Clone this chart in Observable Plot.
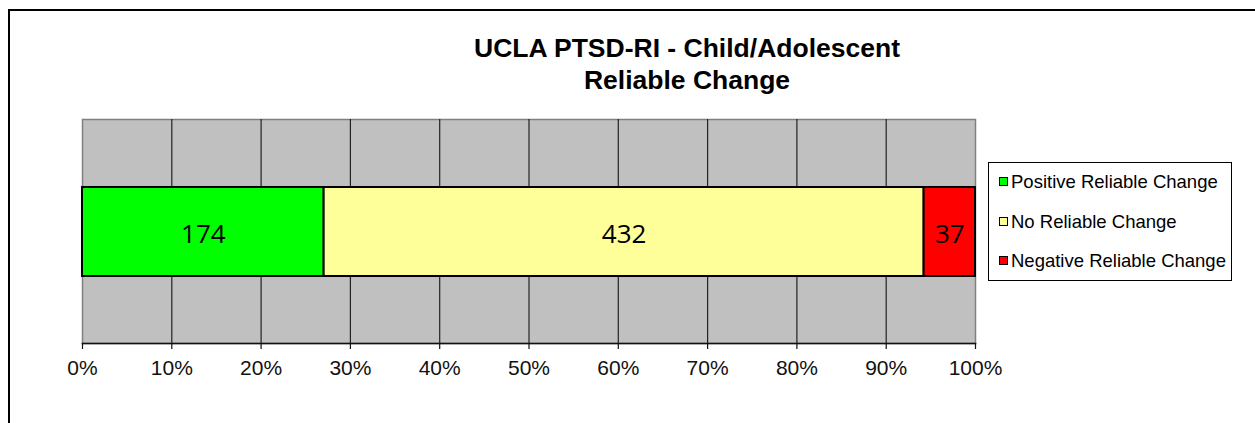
<!DOCTYPE html>
<html>
<head>
<meta charset="utf-8">
<script src="https://cdn.jsdelivr.net/npm/d3@7"></script>
<script src="https://cdn.jsdelivr.net/npm/@observablehq/plot@0.6"></script>
<style>
  html, body { margin: 0; padding: 0; background: #fff; }
  #wrap { position: relative; width: 1255px; height: 423px; overflow: hidden; font-family: "Liberation Sans", Arial, sans-serif; }
  #border { position: absolute; left: 8px; top: 9px; width: 1300px; height: 500px; border-left: 2px solid #000; border-top: 2px solid #000; box-sizing: border-box; }
  #title { position: absolute; left: 387px; width: 600px; top: 32px; text-align: center; font-weight: bold; font-size: 26.5px; line-height: 32px; color: #000; }
  #legend { position: absolute; left: 988px; top: 162px; width: 244px; height: 119px; box-sizing: border-box; border: 1px solid #000; background: #fff; }
  .item { position: absolute; left: 10px; font-size: 18.5px; color: #000; white-space: nowrap; line-height: 20px; }
  .sw { display: inline-block; width: 7px; height: 7px; border: 1px solid #000; margin-right: 3px; vertical-align: 2px; }
  #chart { position: absolute; left: 0; top: 0; }
</style>
</head>
<body>
<div id="wrap">
  <div id="chart"></div>
  <div id="border"></div>
  <div id="title"></div>
  <div id="legend"></div>
</div>
<script>
const titleLines = ["UCLA PTSD-RI - Child/Adolescent", "Reliable Change"];
const categories = ["Positive Reliable Change", "No Reliable Change", "Negative Reliable Change"];
const counts = [174, 432, 37];
const colors = ["#00FF00", "#FFFF99", "#FF0000"];
const rowLabel = ["UCLA PTSD-RI"];
const tickValues = [0, 0.1, 0.2, 0.3, 0.4, 0.5, 0.6, 0.7, 0.8, 0.9, 1];

const data = categories.map((c, i) => ({row: rowLabel[0], category: c, value: counts[i]}));

const stackOpts = {x: "value", y: "row", offset: "normalize", order: null};

const plot = Plot.plot({
  width: 1255,
  height: 423,
  marginLeft: 82,
  marginRight: 280,
  marginTop: 119,
  marginBottom: 80,
  style: {fontFamily: "'Liberation Sans', Arial, sans-serif", background: "transparent", overflow: "visible"},
  x: {domain: [0, 1], ticks: tickValues, tickFormat: d3.format(".0%"), label: null},
  y: {domain: rowLabel, padding: 0.432, axis: null, label: null},
  color: {domain: categories, range: colors},
  marks: [
    Plot.frame({fill: "#C0C0C0", stroke: "#808080", strokeWidth: 1.5}),
    Plot.gridX(tickValues.slice(1, -1), {stroke: "#222", strokeOpacity: 1, strokeWidth: 1.2}),
    Plot.barX(data, Plot.stackX({...stackOpts, fill: "category", stroke: "#000", strokeWidth: 2})),
    Plot.text(data, Plot.stackX({...stackOpts, text: "value", fill: "#000", fontSize: 26, fontFamily: "'Open Sans', sans-serif", dy: 3})),
    Plot.frame({anchor: "bottom", stroke: "#111", strokeWidth: 1.5}),
    Plot.axisX({ticks: tickValues, tickFormat: d3.format(".0%"), label: null, tickSize: 6, tickPadding: 11, fontSize: 21, color: "#111", stroke: "#111", strokeWidth: 1.2})
  ]
});
document.getElementById("chart").appendChild(plot);

document.getElementById("title").innerHTML = titleLines.map(t => `<div>${t}</div>`).join("");
const legend = document.getElementById("legend");
categories.forEach((c, i) => {
  const d = document.createElement("div");
  d.className = "item";
  d.style.top = (9 + i * 39.5) + "px";
  d.innerHTML = `<span class="sw" style="background:${colors[i]}"></span>${c}`;
  legend.appendChild(d);
});
</script>
</body>
</html>
